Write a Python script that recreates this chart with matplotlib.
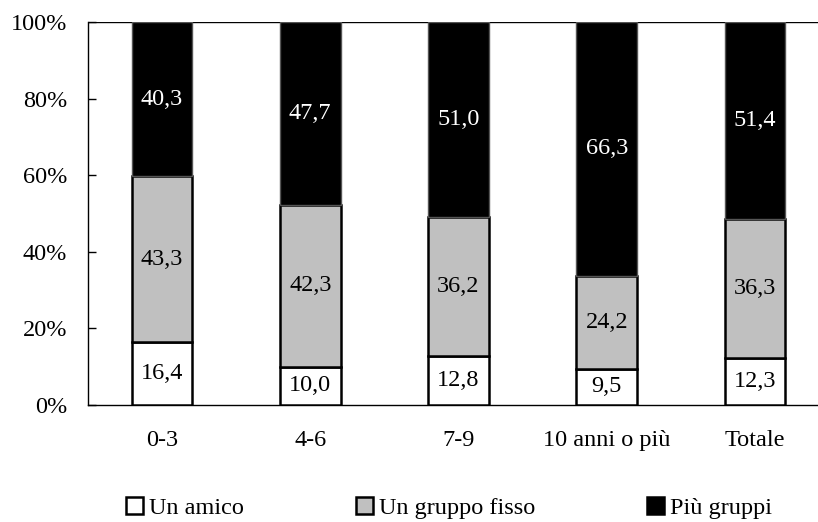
import numpy as np
import matplotlib.pyplot as plt
from matplotlib.patches import Patch

plt.rcParams['font.family'] = ['Liberation Serif', 'DejaVu Serif']
plt.rcParams['font.size'] = 17.5

categories = ['0-3', '4-6', '7-9', '10 anni o più', 'Totale']
un_amico = [16.4, 10.0, 12.8, 9.5, 12.3]
gruppo_fisso = [43.3, 42.3, 36.2, 24.2, 36.3]
piu_gruppi = [40.3, 47.7, 51.0, 66.3, 51.4]
series_names = ['Un amico', 'Un gruppo fisso', 'Più gruppi']

fig = plt.figure(figsize=(8.18, 5.22), dpi=100)
ax = fig.add_axes([88 / 818, 117 / 522, 741 / 818, 383 / 522])

x = np.arange(len(categories))
w = 0.41
a = np.array(un_amico)
g = np.array(gruppo_fisso)
p = np.array(piu_gruppi)

ax.bar(x, a, w, color='white', edgecolor='black', linewidth=1.8, zorder=3)
ax.bar(x, g, w, bottom=a, color='#c0c0c0', edgecolor='black', linewidth=1.8, zorder=3)
ax.bar(x, p, w, bottom=a + g, color='black', edgecolor='#555555', linewidth=1.0, zorder=3)

def fmt(v):
    return f'{v:.1f}'.replace('.', ',')

for i in range(len(x)):
    ax.text(x[i], a[i] / 2, fmt(a[i]), ha='center', va='center', color='black', zorder=4)
    ax.text(x[i], a[i] + g[i] / 2, fmt(g[i]), ha='center', va='center', color='black', zorder=4)
    ax.text(x[i], a[i] + g[i] + p[i] / 2, fmt(p[i]), ha='center', va='center', color='white', zorder=4)

ax.set_xlim(-0.5, 4.5)
ax.set_ylim(0, 100)
ax.set_yticks(range(0, 101, 20))
ax.set_yticklabels([f'{t}%' for t in range(0, 101, 20)])
ax.set_xticks(x)
ax.set_xticklabels(categories)
ax.tick_params(axis='y', direction='in', length=6, width=1, pad=15)
ax.tick_params(axis='x', length=0, pad=18)
ax.axhline(100, color='black', linewidth=1, zorder=2)

for side in ['top', 'right']:
    ax.spines[side].set_visible(False)
ax.spines['left'].set_linewidth(1)
ax.spines['bottom'].set_linewidth(1)

handles = [Patch(facecolor='white', edgecolor='black', linewidth=1.8),
           Patch(facecolor='#c0c0c0', edgecolor='black', linewidth=1.8),
           Patch(facecolor='black', edgecolor='black', linewidth=1.8)]
fig.legend(handles, series_names, loc='center', bbox_to_anchor=(449 / 818, 1 - 508 / 522), ncol=3,
           frameon=False, handlelength=0.7, handleheight=0.7, handletextpad=0.25,
           columnspacing=4.6, fontsize=17.5, borderpad=0)

fig.savefig('out.png', dpi=100)
